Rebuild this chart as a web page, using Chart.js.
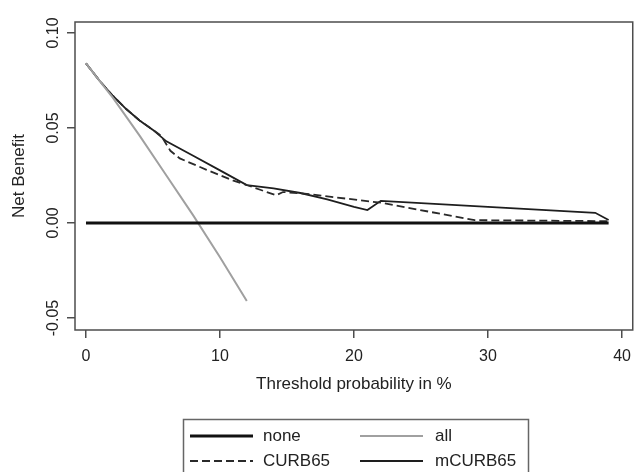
<!DOCTYPE html>
<html>
<head>
<meta charset="utf-8">
<script src="https://cdn.jsdelivr.net/npm/chart.js@4.4.1/dist/chart.umd.min.js"></script>
<style>
  html, body { margin: 0; padding: 0; background: #fff; overflow: hidden; }
  #wrap { width: 640px; height: 472px; }
</style>
</head>
<body>
<div id="wrap"><canvas id="dca" width="640" height="472"></canvas></div>
<script>
// umbral en %, beneficio neto
const xTicks = [0, 10, 20, 30, 40];
const yTicks = [-0.05, 0, 0.05, 0.10];
const yTickLabels = ['-0.05', '0.00', '0.05', '0.10'];

const noneX = [0, 39];
const noneY = [0, 0];

const allX = [0, 1, 2, 4, 6, 8, 10, 12];
const allY = [0.084, 0.075, 0.066, 0.046, 0.025, 0.004, -0.018, -0.041];

const curbX = [0, 1, 2, 3, 4, 5, 5.6, 6.3, 7, 9, 11, 12, 13, 14.2, 14.7, 16, 22, 29, 39];
const curbY = [0.084, 0.075, 0.067, 0.060, 0.054, 0.049, 0.046, 0.038, 0.034, 0.028, 0.0223, 0.020, 0.0175, 0.0146, 0.0163, 0.0157, 0.0107, 0.0015, 0.001];

const mcurbX = [0, 1, 2, 3, 4, 5, 6, 8, 10, 12, 14, 16, 18, 20, 21, 22, 38, 39];
const mcurbY = [0.084, 0.075, 0.067, 0.060, 0.054, 0.049, 0.043, 0.0354, 0.0277, 0.020, 0.0182, 0.0158, 0.0125, 0.0085, 0.0068, 0.0117, 0.0054, 0.0016];

const seriesNames = ['none', 'all', 'CURB65', 'mCURB65'];

const toPts = (xs, ys) => xs.map((x, i) => ({ x: x, y: ys[i] }));

const FONT = 'Liberation Sans, Arial, Helvetica, sans-serif';
const AXIS_COLOR = '#4d4d4d';

// caja del gráfico + etiquetas verticales del eje y + leyenda
const marcoPlugin = {
    id: 'marco',
    afterDraw(chart) {
        const ctx = chart.ctx;
        const a = chart.chartArea;
        ctx.save();
        ctx.strokeStyle = AXIS_COLOR;
        ctx.lineWidth = 1.5;
        ctx.strokeRect(a.left, a.top, a.right - a.left, a.bottom - a.top);

        // etiquetas del eje y, giradas
        const ys = chart.scales.y;
        ctx.fillStyle = '#222';
        ctx.font = '16px ' + FONT;
        ctx.textAlign = 'center';
        ctx.textBaseline = 'middle';
        yTicks.forEach((v, i) => {
            const py = ys.getPixelForValue(v);
            ctx.save();
            ctx.translate(54, py);
            ctx.rotate(-Math.PI / 2);
            ctx.fillText(yTickLabels[i], 0, 0);
            ctx.restore();
        });

        // leyenda en dos columnas
        ctx.strokeStyle = '#666';
        ctx.lineWidth = 1.5;
        ctx.strokeRect(183.5, 419.5, 345, 70);
        ctx.font = '17px ' + FONT;
        ctx.textAlign = 'left';
        const cols = [[190, 253, 263], [360, 423, 435]];
        const rows = [436, 461];
        chart.data.datasets.forEach((ds, i) => {
            const c = cols[i % 2];
            const r = rows[Math.floor(i / 2)];
            ctx.save();
            ctx.strokeStyle = ds.borderColor;
            ctx.lineWidth = ds.borderWidth;
            ctx.setLineDash(ds.borderDash || []);
            ctx.beginPath();
            ctx.moveTo(c[0], r);
            ctx.lineTo(c[1], r);
            ctx.stroke();
            ctx.restore();
            ctx.fillStyle = '#222';
            ctx.fillText(ds.label, c[2], r);
        });
        ctx.restore();
    }
};

new Chart(document.getElementById('dca'), {
    type: 'line',
    data: {
        datasets: [
            { label: seriesNames[0], data: toPts(noneX, noneY), borderColor: '#111', borderWidth: 3 },
            { label: seriesNames[1], data: toPts(allX, allY), borderColor: '#a0a0a0', borderWidth: 2 },
            { label: seriesNames[2], data: toPts(curbX, curbY), borderColor: '#2a2a2a', borderWidth: 1.8, borderDash: [8, 4] },
            { label: seriesNames[3], data: toPts(mcurbX, mcurbY), borderColor: '#1e1e1e', borderWidth: 1.8 }
        ]
    },
    options: {
        responsive: false,
        animation: false,
        devicePixelRatio: 1,
        layout: { padding: { top: 22, right: 4, left: 0, bottom: 0 } },
        elements: { point: { radius: 0 }, line: { tension: 0, fill: false } },
        plugins: { legend: { display: false }, tooltip: { enabled: false } },
        scales: {
            x: {
                type: 'linear',
                min: -0.82,
                max: 40.8,
                afterBuildTicks: s => { s.ticks = xTicks.map(v => ({ value: v })); },
                afterFit: s => { s.height = 142; },
                border: { display: false },
                grid: { drawOnChartArea: false, drawTicks: true, tickLength: 8, color: AXIS_COLOR, lineWidth: 1.5 },
                ticks: { color: '#222', font: { size: 16, family: FONT }, padding: 9, maxRotation: 0 },
                title: {
                    display: true,
                    text: 'Threshold probability in %',
                    color: '#222',
                    font: { size: 17, family: FONT },
                    padding: { top: 0, bottom: 77 }
                }
            },
            y: {
                type: 'linear',
                min: -0.0563,
                max: 0.1058,
                afterBuildTicks: s => { s.ticks = yTicks.map(v => ({ value: v })); },
                afterFit: s => { s.width = 75; },
                border: { display: false },
                grid: { drawOnChartArea: false, drawTicks: true, tickLength: 8, color: AXIS_COLOR, lineWidth: 1.5 },
                ticks: { display: false },
                title: {
                    display: true,
                    text: 'Net Benefit',
                    color: '#222',
                    font: { size: 17, family: FONT },
                    padding: { top: 9, bottom: 0 }
                }
            }
        }
    },
    plugins: [marcoPlugin]
});
</script>
</body>
</html>
